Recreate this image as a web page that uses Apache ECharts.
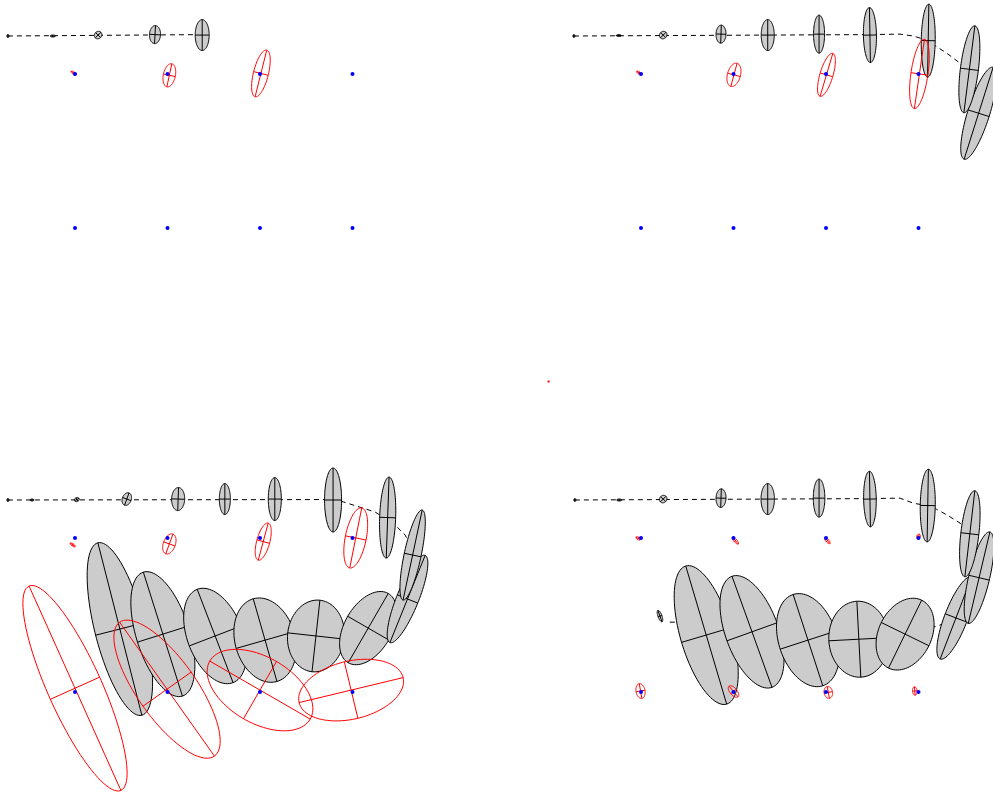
<!DOCTYPE html>
<html>
<head>
<meta charset="utf-8">
<script src="https://cdn.jsdelivr.net/npm/echarts@6/dist/echarts.min.js"></script>
<style>
  html, body { margin: 0; padding: 0; background: #ffffff; }
  #chart { width: 993px; height: 793px; }
</style>
</head>
<body>
<div id="chart"></div>
<script>
// ---------------------------------------------------------------
// EKF-SLAM snapshots: true path (dashed), pose covariance ellipses
// (grey), landmark estimate ellipses (red), true landmarks (blue).
// All values in metres. Ellipse rows: [x, y, semiMajor, semiMinor, angleDeg]
// ---------------------------------------------------------------

// true landmark grid
const landmarkX = [2, 4, 6, 8];
const landmarkRowY = [-0.82, -4.15];

// --- snapshot 1: first steps ---
const pathEarly = [[0.55, 0.00], [4.75, 0.03]];
const posesEarly = [
  [0.55, 0.00, 0.032, 0.022, 90],
  [1.52, 0.00, 0.054, 0.022, 0],
  [2.50, 0.02, 0.086, 0.076, 45],
  [3.73, 0.03, 0.195, 0.119, 87],
  [4.75, 0.02, 0.335, 0.151, 90]
];
const estimatesEarly = [
  [1.97, -0.80, 0.065, 0.026, -35],
  [4.04, -0.85, 0.255, 0.130, 78],
  [6.02, -0.81, 0.519, 0.162, 76]
];
const strayEarly = [[12.24, -7.47]];

// --- snapshot 2: entering the turn ---
const pathTurn = [
  [0.55, 0.00], [6.87, 0.03], [7.60, 0.04], [7.89, 0.00], [8.18, -0.09],
  [8.39, -0.23], [8.61, -0.37], [8.86, -0.56], [9.07, -0.78], [9.24, -1.12],
  [9.33, -1.49], [9.33, -1.64]
];
const posesTurn = [
  [0.55, 0.00, 0.032, 0.022, 90],
  [1.52, 0.01, 0.054, 0.022, 0],
  [2.48, 0.02, 0.086, 0.076, 45],
  [3.73, 0.04, 0.195, 0.108, 88],
  [4.74, 0.02, 0.335, 0.141, 90],
  [5.85, 0.04, 0.411, 0.119, 90],
  [6.95, 0.02, 0.595, 0.141, 91],
  [8.21, -0.10, 0.789, 0.151, 89],
  [9.10, -0.72, 0.947, 0.195, 82.8],
  [9.30, -1.67, 1.042, 0.238, 72.5]
];
const estimatesTurn = [
  [1.96, -0.80, 0.065, 0.026, -35],
  [4.01, -0.84, 0.259, 0.141, 75],
  [6.01, -0.84, 0.484, 0.141, 73.5],
  [8.02, -0.82, 0.757, 0.184, 81.7]
];

// --- snapshot 3: return leg, drifting ---
const pathDrift = [
  [0.55, 0.00], [7.51, 0.01], [7.80, -0.04], [8.49, -0.26], [8.92, -0.54],
  [9.14, -0.76], [9.31, -1.12], [9.40, -1.56], [9.35, -1.99], [9.14, -2.38],
  [8.77, -2.62], [8.16, -2.72], [6.87, -2.75], [4.70, -2.70], [3.08, -2.68]
];
const posesDrift = [
  [0.55, 0.00, 0.032, 0.022, 90],
  [1.07, 0.00, 0.043, 0.022, 0],
  [2.04, 0.01, 0.054, 0.043, 30],
  [3.12, 0.02, 0.141, 0.097, 70],
  [4.23, 0.02, 0.249, 0.141, 88],
  [5.24, 0.02, 0.335, 0.119, 90],
  [6.32, 0.02, 0.465, 0.141, 90],
  [7.58, 0.00, 0.692, 0.184, 90],
  [8.76, -0.38, 0.876, 0.173, 88],
  [9.30, -1.19, 0.995, 0.184, 78],
  [9.19, -2.14, 1.016, 0.238, 68],
  [8.34, -2.77, 0.865, 0.512, 60],
  [7.21, -2.94, 0.778, 0.614, 83.7],
  [6.11, -3.03, 0.930, 0.649, 106],
  [5.03, -2.94, 1.081, 0.599, 111],
  [3.90, -2.90, 1.405, 0.575, 107.5],
  [2.97, -2.79, 1.924, 0.541, 104.3]
];
const estimatesDrift = [
  [1.95, -0.97, 0.065, 0.026, -35],
  [4.04, -0.95, 0.227, 0.130, 70],
  [6.07, -0.90, 0.415, 0.141, 75],
  [8.07, -0.82, 0.662, 0.227, 78.7],
  [2.00, -4.07, 2.422, 0.584, 114.2],
  [3.99, -4.09, 1.773, 0.638, 125.3],
  [6.00, -4.11, 1.254, 0.714, -30],
  [7.97, -4.11, 1.157, 0.627, 13.5]
];

// --- snapshot 4: after re-observing the first landmarks ---
const pathClosed = [
  [0.57, 0.00], [6.87, 0.03], [7.60, 0.04], [7.89, -0.07], [8.18, -0.12],
  [8.39, -0.20], [8.61, -0.32], [8.90, -0.50], [9.07, -0.78], [9.24, -1.12],
  [9.33, -1.49], [9.33, -1.82], [9.24, -2.14], [9.03, -2.42], [8.70, -2.62],
  [8.36, -2.74], [7.73, -2.75], [6.87, -2.72], [4.70, -2.68], [3.62, -2.66],
  [2.58, -2.64]
];
const posesClosed = [
  [0.57, 0.00, 0.032, 0.022, 90],
  [1.53, 0.00, 0.054, 0.022, 0],
  [2.48, 0.02, 0.086, 0.076, 45],
  [3.73, 0.04, 0.201, 0.108, 88],
  [4.74, 0.02, 0.335, 0.145, 90],
  [5.85, 0.04, 0.411, 0.125, 90],
  [6.95, 0.02, 0.601, 0.136, 91],
  [8.20, -0.12, 0.785, 0.162, 89],
  [9.11, -0.73, 0.936, 0.195, 83.4],
  [9.31, -1.68, 1.016, 0.227, 76.7],
  [8.81, -2.55, 0.951, 0.249, 69],
  [7.71, -2.90, 0.817, 0.573, 64],
  [6.71, -3.01, 0.822, 0.649, 93],
  [5.61, -3.03, 1.038, 0.631, 108],
  [4.40, -2.85, 1.276, 0.575, 109.8],
  [3.41, -2.92, 1.557, 0.556, 106.5],
  [2.41, -2.51, 0.130, 0.043, 110]
];
const estimatesClosed = [
  [1.94, -0.83, 0.054, 0.028, -30],
  [4.04, -0.88, 0.097, 0.032, -48],
  [6.03, -0.88, 0.082, 0.032, -48],
  [8.00, -0.79, 0.054, 0.039, 70],
  [1.99, -4.13, 0.162, 0.097, 100],
  [4.00, -4.14, 0.151, 0.076, -50],
  [6.05, -4.16, 0.130, 0.091, 100],
  [7.92, -4.13, 0.091, 0.050, 95]
];

// ---------------------------------------------------------------
// layout: four panels sharing one metric scale
// ---------------------------------------------------------------
const PX_PER_M = 46.25;
const ORIGIN_PX = [-17.5, 36];   // where (0,0) sits inside each panel
const panels = [
  { left: 0,   top: 0,   width: 560, height: 460, path: pathEarly,  poses: posesEarly,  est: estimatesEarly, stray: strayEarly },
  { left: 566, top: 0,   width: 427, height: 460, path: pathTurn,   poses: posesTurn,   est: estimatesTurn },
  { left: 0,   top: 464, width: 560, height: 329, path: pathDrift,  poses: posesDrift,  est: estimatesDrift },
  { left: 566, top: 464, width: 427, height: 329, path: pathClosed, poses: posesClosed, est: estimatesClosed }
];

const trueLandmarks = [];
landmarkRowY.forEach(y => landmarkX.forEach(x => trueLandmarks.push([x, y])));

function ellipseRenderer(stroke, fill) {
  return function (params, api) {
    const cx = api.value(0), cy = api.value(1);
    const a = api.value(2), b = api.value(3);
    const t = api.value(4) * Math.PI / 180;
    const c = Math.cos(t), s = Math.sin(t);
    const pts = [];
    const N = 90;
    for (let i = 0; i < N; i++) {
      const u = (i / N) * Math.PI * 2;
      const ex = a * Math.cos(u), ey = b * Math.sin(u);
      pts.push(api.coord([cx + ex * c - ey * s, cy + ex * s + ey * c]));
    }
    const p = (dx, dy) => api.coord([cx + dx, cy + dy]);
    const m1 = p(a * c, a * s), m2 = p(-a * c, -a * s);
    const n1 = p(-b * s, b * c), n2 = p(b * s, -b * c);
    return {
      type: 'group',
      children: [
        { type: 'polygon', shape: { points: pts },
          style: { fill: fill, stroke: stroke, lineWidth: 1 } },
        { type: 'line', shape: { x1: m1[0], y1: m1[1], x2: m2[0], y2: m2[1] },
          style: { stroke: stroke, lineWidth: 1 } },
        { type: 'line', shape: { x1: n1[0], y1: n1[1], x2: n2[0], y2: n2[1] },
          style: { stroke: stroke, lineWidth: 1 } }
      ]
    };
  };
}

const grid = [], xAxis = [], yAxis = [], series = [];
panels.forEach((pn, i) => {
  grid.push({ left: pn.left, top: pn.top, width: pn.width, height: pn.height,
              containLabel: false, outerBoundsMode: 'none' });
  xAxis.push({ type: 'value', gridIndex: i, show: false,
               min: (0 - ORIGIN_PX[0]) / PX_PER_M,
               max: (pn.width - ORIGIN_PX[0]) / PX_PER_M });
  yAxis.push({ type: 'value', gridIndex: i, show: false,
               min: (ORIGIN_PX[1] - pn.height) / PX_PER_M,
               max: ORIGIN_PX[1] / PX_PER_M });

  // true trajectory (bottom layer)
  series.push({
    type: 'line', xAxisIndex: i, yAxisIndex: i, data: pn.path, z: 1,
    showSymbol: false, symbol: 'none', silent: true,
    lineStyle: { color: '#000000', width: 1, type: [5, 4] }
  });
  // pose covariance ellipses, latest first so earlier ones sit on top
  series.push({
    type: 'custom', xAxisIndex: i, yAxisIndex: i, silent: true, z: 3,
    dimensions: ['x', 'y', 'a', 'b', 'angle'], encode: { x: 0, y: 1 },
    data: pn.poses.slice().reverse(),
    renderItem: ellipseRenderer('#000000', '#cccccc')
  });
  // landmark estimates
  series.push({
    type: 'custom', xAxisIndex: i, yAxisIndex: i, silent: true, z: 4,
    dimensions: ['x', 'y', 'a', 'b', 'angle'], encode: { x: 0, y: 1 },
    data: pn.est,
    renderItem: ellipseRenderer('#ff0000', 'none')
  });
  if (pn.stray) {
    series.push({
      type: 'scatter', xAxisIndex: i, yAxisIndex: i, silent: true, z: 5,
      data: pn.stray, symbol: 'rect', symbolSize: 2,
      itemStyle: { color: '#ff0000', opacity: 1 }
    });
  }
  // true landmarks
  series.push({
    type: 'scatter', xAxisIndex: i, yAxisIndex: i, silent: true, z: 6,
    data: trueLandmarks, symbol: 'circle', symbolSize: 4,
    itemStyle: { color: '#0000ff', opacity: 1 }
  });
});

const chart = echarts.init(document.getElementById('chart'), null, { renderer: 'canvas' });
chart.setOption({
  backgroundColor: '#ffffff',
  animation: false,
  grid: grid,
  xAxis: xAxis,
  yAxis: yAxis,
  series: series
});
</script>
</body>
</html>
